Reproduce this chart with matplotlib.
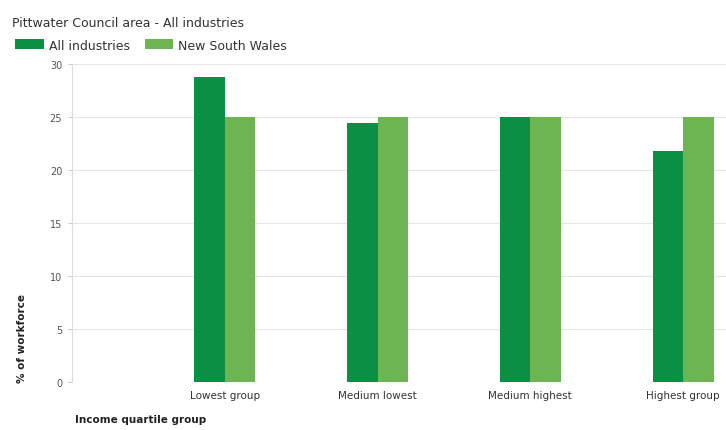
import numpy as np
import matplotlib.pyplot as plt

## DATA ##########################
categories = ['Lowest group', 'Medium lowest', 'Medium highest', 'Highest group']
area_vals = [28.8, 24.4, 25.0, 21.8]
nsw_vals = [25.0, 25.0, 25.0, 25.0]
yticks = [0, 5, 10, 15, 20, 25, 30]
##################################

dark = '#0a8f45'
light = '#6db552'

fig = plt.figure(figsize=(7.26, 4.31), dpi=100)
ax = fig.add_axes([0.099, 0.111, 0.901, 0.738])

x = np.arange(len(categories))
w = 0.2
ax.bar(x - w / 2, area_vals, w, color=dark, label='All industries', zorder=3)
ax.bar(x + w / 2, nsw_vals, w, color=light, label='New South Wales', zorder=3)

ax.set_xlim(-1.0, 3.28)
ax.set_ylim(0, 30)
ax.set_xticks(x)
ax.set_xticklabels(categories, fontsize=7.5, color='#333333')
ax.set_yticks(yticks)
ax.set_yticklabels([str(v) for v in yticks], fontsize=7, color='#555555')
ax.tick_params(axis='x', length=0, pad=6)
ax.tick_params(axis='y', length=3, color='#cccccc', pad=4)

ax.grid(axis='y', color='#e6e6e6', linewidth=0.8, zorder=0)
for s in ['top', 'right', 'bottom']:
    ax.spines[s].set_visible(False)
ax.spines['left'].set_color('#dddddd')

fig.text(0.03, 0.111, '% of workforce', rotation=90, fontsize=7.5,
         fontweight='bold', color='#222222', ha='center', va='bottom')
fig.text(0.103, 0.015, 'Income quartile group', fontsize=7.5,
         fontweight='bold', color='#222222', ha='left', va='bottom')
fig.text(0.017, 0.945, 'Pittwater Council area - All industries', fontsize=9,
         color='#333333', ha='left', va='center')

fig.legend(loc='center left', bbox_to_anchor=(0.005, 0.893), ncol=2, frameon=False,
           fontsize=9, handlelength=2.3, handleheight=0.9, columnspacing=1.2,
           handletextpad=0.4, labelcolor='#333333')

fig.savefig('out.png', dpi=100)
